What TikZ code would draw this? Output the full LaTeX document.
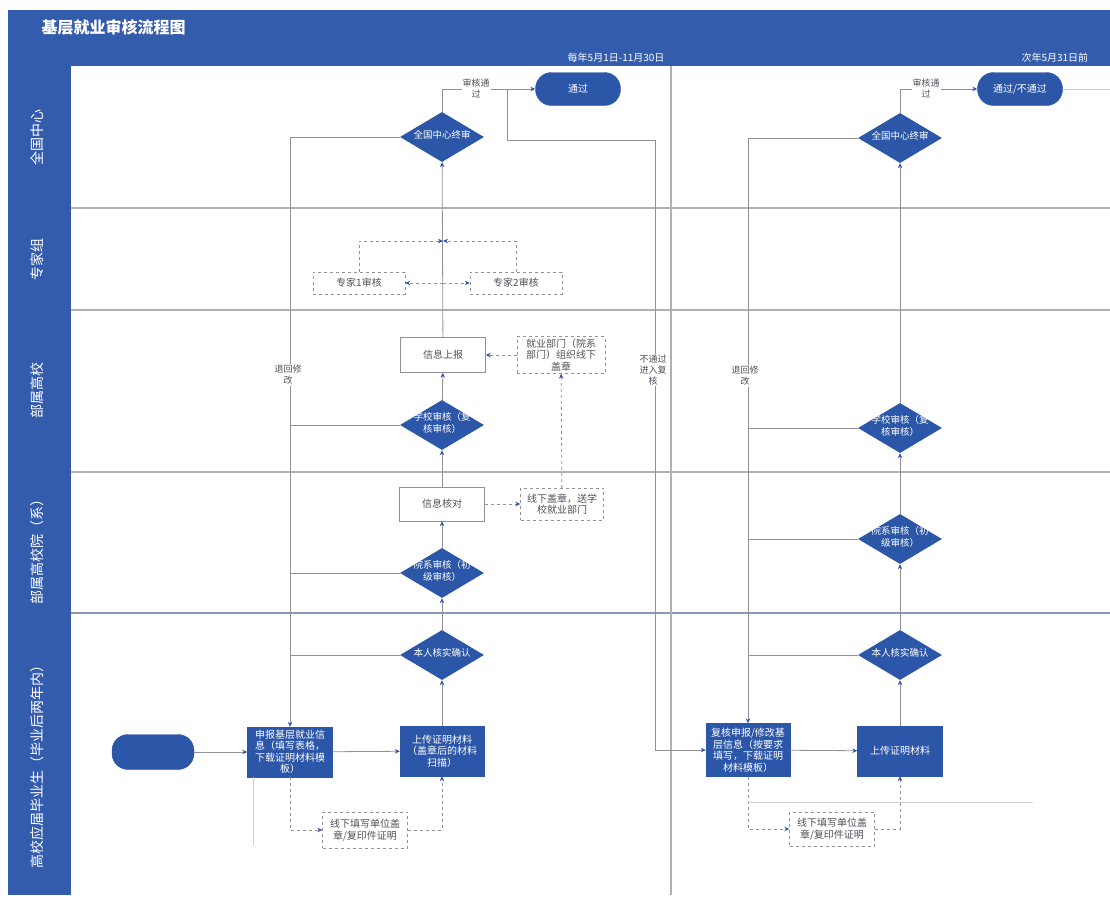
\documentclass[tikz,border=0pt]{standalone}
\usepackage{fontspec}
\setmainfont{Noto Sans CJK SC}
\usetikzlibrary{arrows.meta, positioning, shapes.geometric, calc}
\definecolor{laneblue}{RGB}{52, 92, 172}
\definecolor{flowblue}{RGB}{44, 86, 168}
\definecolor{lanegray}{RGB}{175, 175, 182}
\definecolor{linegray}{RGB}{145, 145, 155}
\definecolor{textgray}{RGB}{80, 80, 90}
\newcommand{\diatext}[1]{\makebox[0pt]{\raisebox{-2.5pt}{\smash{\begin{tabular}{@{}c@{}}#1\end{tabular}}}}}

\begin{document}
\begin{tikzpicture}[
  x=1pt, y=-1pt,
  every node/.style={font=\fontsize{10}{11.5}\selectfont},
  laneline/.style={draw=lanegray, line width=1.2pt},
  procbox/.style={draw=flowblue, fill=flowblue, text=white, minimum width=85pt, minimum height=50pt, inner sep=2pt, align=center},
  checkdia/.style={diamond, fill=flowblue, text=white, minimum width=84pt, minimum height=50pt, inner sep=0pt, font=\fontsize{9.5}{11}\selectfont},
  whitebox/.style={draw=linegray, fill=white, text=textgray, minimum width=85pt, minimum height=34pt, inner sep=2pt, align=center},
  offbox/.style={whitebox, dashed},
  termbox/.style={draw=flowblue, fill=flowblue, text=white, rounded corners=16pt, minimum width=85pt, minimum height=33pt},
  flowline/.style={draw=linegray, line width=0.8pt},
  flowarrow/.style={flowline, -{Stealth[length=5pt, width=4.5pt, color=flowblue]}},
  dashflow/.style={flowarrow, dashed},
  faintline/.style={draw=lanegray!60, line width=0.8pt},
  notelabel/.style={fill=white, text=textgray, align=center, inner sep=1pt, font=\fontsize{9}{11}\selectfont},
  lanename/.style={rotate=90, text=white, font=\fontsize{14}{16}\selectfont}
]
  \useasboundingbox (0,0) rectangle (1110,899);

  % Rahmen und Bahnen
  \fill[laneblue] (8,10) rectangle (1110,895);
  \fill[white] (71,66) rectangle (1110,895);
  \node[anchor=west, text=white, font=\fontsize{16}{18}\selectfont\bfseries] (title) at (38,27) {基层就业审核流程图};
  \node[anchor=east, text=white] (hdrA) at (668,58) {每年5月1日-11月30日};
  \node[anchor=west, text=white] (hdrB) at (1018,58) {次年5月31日前};

  \draw[laneline] (71,208) -- (1110,208);
  \draw[laneline] (71,310) -- (1110,310);
  \draw[laneline] (71,472) -- (1110,472);
  \draw[laneline, draw=lanegray!70!laneblue] (71,613) -- (1110,613);
  \draw[laneline] (671,66) -- (671,895);

  \node[lanename] (laneA) at (37,137) {全国中心};
  \node[lanename] (laneB) at (37,259) {专家组};
  \node[lanename] (laneC) at (37,390) {部属高校};
  \node[lanename] (laneD) at (37,548) {部属高校院（系）};
  \node[lanename] (laneE) at (37,763) {高校应届毕业生（毕业后两年内）};

  % linke Spalte
  \node[termbox, minimum width=82pt, minimum height=35pt] (start) at (153,752) {};
  \node[procbox] (apply) at (290,752) {申报基层就业信\\息（填写表格，\\下载证明材料模\\板）};
  \node[procbox, minimum width=84pt] (upload) at (442,751) {上传证明材料\\（盖章后的材料\\扫描）};
  \node[offbox, minimum height=36pt] (offline) at (365,830) {线下填写单位盖\\章/复印件证明};
  \node[checkdia] (confirm) at (442,655) {\diatext{本人核实确认}};
  \node[checkdia] (deptok) at (442,573) {\diatext{院系审核（初\\级审核）}};
  \node[whitebox] (check) at (442,504) {信息核对};
  \node[offbox, minimum width=83pt, minimum height=32pt] (stamp) at (562,504) {线下盖章，送学\\校就业部门};
  \node[checkdia] (schoolok) at (442,425) {\diatext{学校审核（复\\核审核）}};
  \node[whitebox, minimum height=35pt] (report) at (443,355) {信息上报};
  \node[offbox, minimum width=88pt, minimum height=37pt] (organize) at (561,355) {就业部门（院系\\部门）组织线下\\盖章};
  \node[offbox, minimum width=92pt, minimum height=22pt] (expA) at (359,283) {专家1审核};
  \node[offbox, minimum width=92pt, minimum height=22pt] (expB) at (516,283) {专家2审核};
  \node[checkdia] (center) at (442,137) {\diatext{全国中心终审}};
  \node[termbox] (pass) at (578,89) {通过};

  % rechte Spalte
  \node[procbox, minimum width=84pt, minimum height=53pt] (reapply) at (748,750) {复核申报/修改基\\层信息（按要求\\填写，下载证明\\材料模板）};
  \node[procbox] (reupload) at (900,751) {上传证明材料};
  \node[offbox] (reoffline) at (832,829) {线下填写单位盖\\章/复印件证明};
  \node[checkdia] (reconfirm) at (900,655) {\diatext{本人核实确认}};
  \node[checkdia] (redeptok) at (900,539) {\diatext{院系审核（初\\级审核）}};
  \node[checkdia] (reschoolok) at (900,428) {\diatext{学校审核（复\\核审核）}};
  \node[checkdia] (recenter) at (900,138) {\diatext{全国中心终审}};
  \node[termbox] (final) at (1020,89) {通过/不通过};

  \coordinate (split) at (443,283);
  \coordinate (join) at (443,241);
  \coordinate (brk) at (507,89);
  \coordinate (brk2) at (655,140);
  \coordinate (tailL) at (253,845);
  \coordinate (tailR) at (1033,802);
  \coordinate (edgeR) at (1110,89);

  % Verbindungen links
  \draw[flowarrow] (start) -- (apply);
  \draw[flowarrow] (apply) -- (upload);
  \draw[dashflow] (apply.south) |- (offline.west);
  \draw[dashflow] (offline.east) -| (upload.south);
  \draw[flowarrow] (upload) -- (confirm);
  \draw[flowarrow] (confirm) -- (deptok);
  \draw[flowarrow] (deptok) -- (check);
  \draw[dashflow] (check) -- (stamp);
  \draw[dashflow] (stamp) -- (organize);
  \draw[dashflow] (organize) -- (report);
  \draw[flowarrow] (check) -- (schoolok);
  \draw[flowarrow] (schoolok) -- (report);
  \draw[flowarrow] (report) -- (center);
  \draw[dashflow] (split) -- (expA.east);
  \draw[dashflow] (split) -- (expB.west);
  \draw[dashflow] (expA.north) |- (join);
  \draw[dashflow] (expB.north) |- (join);
  \draw[flowarrow] (center.north) |- (pass.west);
  \draw[flowarrow] (center.west) -| (apply.north);
  \draw[flowline] (schoolok.west) -- (schoolok.west -| apply.north);
  \draw[flowline] (deptok.west) -- (deptok.west -| apply.north);
  \draw[flowline] (confirm.west) -- (confirm.west -| apply.north);
  \draw[flowarrow] (brk) |- (brk2) |- (reapply.west);
  \draw[faintline] (tailL |- apply.south) -- (tailL);

  % Verbindungen rechts
  \draw[flowarrow] (reapply) -- (reupload);
  \draw[dashflow] (reapply.south) |- (reoffline.west);
  \draw[dashflow] (reoffline.east) -| (reupload.south);
  \draw[flowarrow] (reupload) -- (reconfirm);
  \draw[flowarrow] (reconfirm) -- (redeptok);
  \draw[flowarrow] (redeptok) -- (reschoolok);
  \draw[flowarrow] (reschoolok) -- (recenter);
  \draw[flowarrow] (recenter.north) |- (final.west);
  \draw[flowarrow] (recenter.west) -| (reapply.north);
  \draw[flowline] (reschoolok.west) -- (reschoolok.west -| reapply.north);
  \draw[flowline] (redeptok.west) -- (redeptok.west -| reapply.north);
  \draw[flowline] (reconfirm.west) -- (reconfirm.west -| reapply.north);
  \draw[faintline] (tailR -| reapply.south) -- (tailR);
  \draw[faintline] (final.east) -- (edgeR);

  % Beschriftungen
  \node[notelabel] (passnote) at (476,88) {审核通\\过};
  \node[notelabel] (repassnote) at (926,88) {审核通\\过};
  \node[notelabel] (backnote) at (288,375) {退回修\\改};
  \node[notelabel] (rebacknote) at (745,376) {退回修\\改};
  \node[notelabel] (failnote) at (653,370) {不通过\\进入复\\核};

\end{tikzpicture}
\end{document}
